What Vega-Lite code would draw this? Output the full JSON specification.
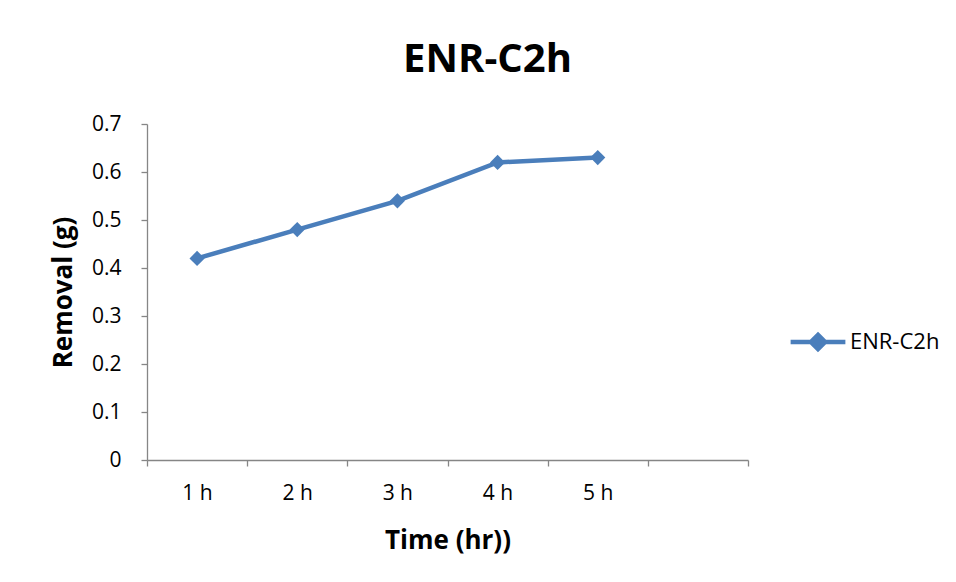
{
  "$schema": "https://vega.github.io/schema/vega-lite/v6.json",
  "width": 601,
  "height": 336,
  "autosize": "none",
  "padding": {"left": 147, "top": 124, "right": 208, "bottom": 122},
  "background": "white",
  "config": {
    "font": "Open Sans",
    "view": {"stroke": null},
    "axis": {
      "domainColor": "#868686",
      "tickColor": "#868686",
      "domainWidth": 1.3,
      "tickWidth": 1.3,
      "tickSize": 6,
      "grid": false,
      "labelFont": "Open Sans",
      "labelFontSize": 21,
      "labelColor": "#000000",
      "titleFont": "Open Sans",
      "titleFontSize": 26,
      "titleFontWeight": "bold",
      "titleColor": "#000000"
    }
  },
  "title": {
    "text": "ENR-C2h",
    "font": "Open Sans",
    "fontSize": 40,
    "fontWeight": "bold",
    "color": "#000000",
    "anchor": "middle",
    "dx": 40,
    "offset": 33
  },
  "data": {
    "values": [
      {"hour": 1, "removal": 0.42, "series": "ENR-C2h"},
      {"hour": 2, "removal": 0.48, "series": "ENR-C2h"},
      {"hour": 3, "removal": 0.54, "series": "ENR-C2h"},
      {"hour": 4, "removal": 0.62, "series": "ENR-C2h"},
      {"hour": 5, "removal": 0.63, "series": "ENR-C2h"}
    ]
  },
  "encoding": {
    "x": {
      "field": "hour",
      "type": "quantitative",
      "scale": {"domain": [0.5, 6.5], "nice": false, "zero": false},
      "axis": {
        "title": "Time (hr))",
        "values": [0.5, 1.5, 2.5, 3.5, 4.5, 5.5, 6.5],
        "labelExpr": "datum.value < 5 ? format(datum.value + 0.5, 'd') + ' h' : ''",
        "labelFlush": false,
        "labelOffset": 50,
        "labelPadding": 16,
        "titlePadding": 24
      }
    },
    "y": {
      "field": "removal",
      "type": "quantitative",
      "scale": {"domain": [0, 0.7], "nice": false},
      "axis": {
        "title": "Removal (g)",
        "values": [0, 0.1, 0.2, 0.3, 0.4, 0.5, 0.6, 0.7],
        "format": ".1~f",
        "labelFlush": false,
        "labelPadding": 20,
        "titlePadding": 15
      }
    },
    "color": {
      "field": "series",
      "type": "nominal",
      "scale": {"range": ["#4A7EBB"]},
      "legend": {
        "title": null,
        "orient": "none",
        "legendX": 641,
        "legendY": 188,
        "symbolType": "M-1,0L-0.26,0M0.26,0L1,0M0,-0.26L0.26,0L0,0.26L-0.26,0Z",
        "symbolSize": 3000,
        "symbolStrokeWidth": 4.5,
        "symbolFillColor": "#4A7EBB",
        "symbolStrokeColor": "#4A7EBB",
        "labelFont": "Open Sans",
        "labelFontSize": 22,
        "labelColor": "#000000",
        "labelOffset": 2
      }
    }
  },
  "layer": [
    {"mark": {"type": "line", "strokeWidth": 4.5}},
    {"mark": {"type": "point", "shape": "diamond", "filled": true, "size": 230, "opacity": 1}}
  ]
}
